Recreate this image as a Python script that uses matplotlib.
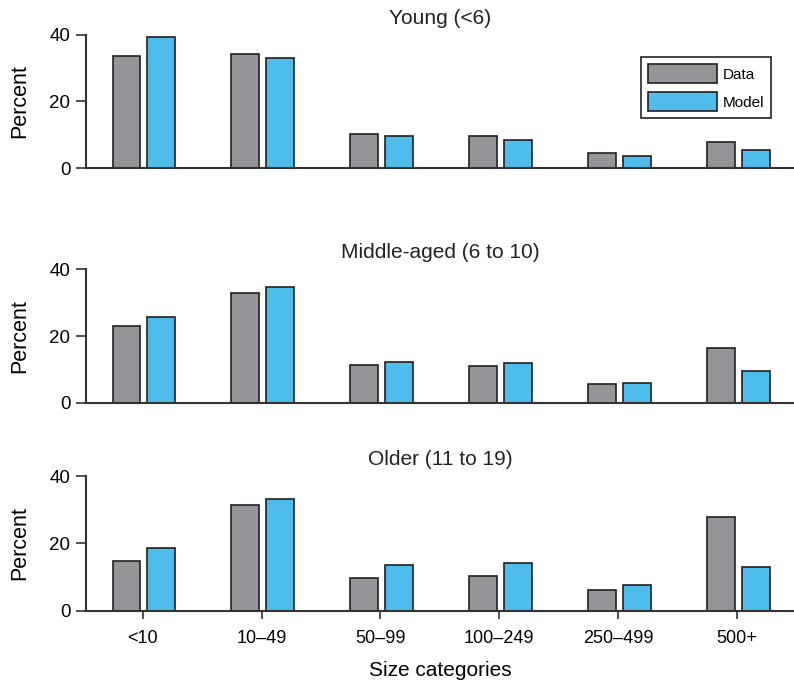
import matplotlib
matplotlib.use("Agg")
import matplotlib.pyplot as plt
import numpy as np

plt.rcParams['font.family'] = ['Liberation Sans', 'DejaVu Sans']

# categorias e valores
categories = ["<10", "10\u201349", "50\u201399", "100\u2013249", "250\u2013499", "500+"]
panel_titles = ["Young (<6)", "Middle-aged (6 to 10)", "Older (11 to 19)"]

young_data = [33.5, 34.2, 10.3, 9.5, 4.4, 7.9]
young_model = [39.2, 33.1, 9.7, 8.4, 3.7, 5.5]
middle_data = [23.0, 33.0, 11.3, 10.9, 5.8, 16.3]
middle_model = [25.6, 34.8, 12.1, 12.0, 6.0, 9.6]
older_data = [14.8, 31.3, 9.6, 10.3, 6.0, 27.8]
older_model = [18.5, 33.2, 13.6, 14.3, 7.5, 13.0]

panels = [(young_data, young_model), (middle_data, middle_model), (older_data, older_model)]

gray = "#939598"
blue = "#4fbdeb"
edge = "#231f20"

fig = plt.figure(figsize=(7.94, 6.83), dpi=100)

# posicoes dos tres paineis (left, bottom, width, height)
boxes = [[0.108, 0.754, 0.892, 0.195],
         [0.108, 0.410, 0.892, 0.196],
         [0.108, 0.106, 0.892, 0.197]]

x = np.arange(len(categories))
w = 0.235
off = 0.147

for i, (data, model) in enumerate(panels):
    ax = fig.add_axes(boxes[i])
    ax.bar(x - off + 0.01, data, w, color=gray, edgecolor=edge, linewidth=1.2, label="Data")
    ax.bar(x + off + 0.01, model, w, color=blue, edgecolor=edge, linewidth=1.2, label="Model")
    ax.set_xlim(-0.48, 5.48)
    ax.set_ylim(0, 40)
    ax.set_yticks([0, 20, 40])
    ax.spines['top'].set_visible(False)
    ax.spines['right'].set_visible(False)
    for s in ['left', 'bottom']:
        ax.spines[s].set_color("#333333")
        ax.spines[s].set_linewidth(1.5)
    ax.tick_params(axis='y', length=7, width=1.2, color="#333333", labelsize=13.5, pad=4)
    ax.set_ylabel("Percent", fontsize=15.5, labelpad=14)
    ax.set_title(panel_titles[i], fontsize=15, pad=8, color="#222222")
    if i == 2:
        ax.set_xticks(x)
        ax.set_xticklabels(categories)
        ax.tick_params(axis='x', length=6, width=1.2, color="#333333", labelsize=13, pad=8)
        ax.set_xlabel("Size categories", fontsize=15, labelpad=10)
    else:
        ax.set_xticks([])
    if i == 0:
        leg = ax.legend(loc='upper right', bbox_to_anchor=(0.968, 0.835), borderaxespad=0,
                        fontsize=11, handlelength=4.5, handleheight=1.6, handletextpad=0.4,
                        borderpad=0.45, labelspacing=0.55, fancybox=False, framealpha=1)
        leg.get_frame().set_edgecolor("#222222")
        leg.get_frame().set_linewidth(1.2)

fig.savefig("out.png", dpi=100)
